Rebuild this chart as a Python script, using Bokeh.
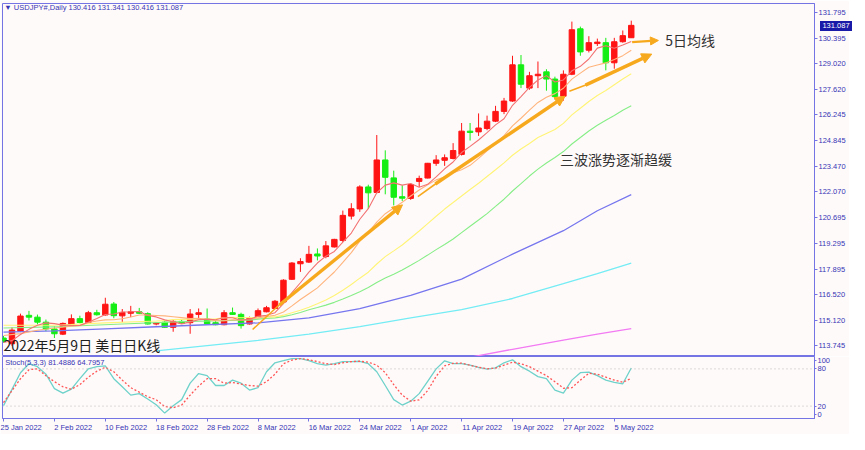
import pandas as pd
from bokeh.plotting import figure
from bokeh.layouts import column
from bokeh.models import (Range1d, FixedTicker, NumeralTickFormatter, Label, Arrow,
                          NormalHead, Span, ColumnDataSource, AllLabels, Div)
from bokeh.embed import file_html
from bokeh.resources import INLINE

# ---------------- data (USDJPY daily) ----------------
opens = [114.16, 113.85, 114.53, 115.39, 115.29, 115.02, 114.65, 114.37, 114.90, 115.21,
         115.00, 115.53, 115.41, 116.00, 115.36, 115.50, 115.58, 115.48, 114.92, 115.02,
         114.74, 115.06, 114.99, 115.44, 115.18, 114.99, 114.88, 115.53, 115.44, 114.92,
         115.30, 115.58, 115.76, 116.11, 117.34, 118.18, 118.27, 118.71, 118.57, 119.09,
         119.44, 120.76, 121.15, 122.34, 122.04, 123.80, 122.83, 121.81, 121.72, 122.64,
         122.82, 123.62, 123.78, 123.88, 124.10, 125.36, 125.32, 125.50, 125.90, 126.43,
         126.99, 128.95, 127.69, 128.36, 128.57, 128.18, 127.25, 128.44, 130.90, 129.74,
         130.10, 130.15, 129.06, 130.20, 130.416]
highs = [114.27, 114.74, 115.48, 115.63, 115.43, 115.16, 114.80, 115.00, 115.44, 115.37,
         115.63, 115.69, 116.34, 116.11, 115.73, 115.90, 115.79, 115.55, 115.02, 115.09,
         115.18, 115.18, 115.73, 115.76, 115.76, 115.09, 115.67, 115.81, 115.53, 115.32,
         115.76, 115.90, 116.22, 117.34, 118.27, 118.48, 119.15, 119.01, 119.41, 119.53,
         121.06, 121.46, 122.43, 122.46, 125.15, 124.32, 123.22, 122.43, 122.53, 122.95,
         123.64, 124.06, 124.10, 124.71, 125.80, 125.80, 126.32, 126.20, 126.73, 127.16,
         129.44, 129.48, 128.57, 129.13, 128.71, 128.31, 128.65, 131.29, 131.02, 130.50,
         130.37, 130.41, 130.41, 130.81, 131.341]
lows = [113.90, 113.74, 114.48, 115.11, 114.90, 114.53, 114.16, 114.32, 114.85, 114.95,
        114.95, 115.37, 115.37, 115.23, 115.02, 115.29, 115.46, 114.89, 114.85, 114.71,
        114.50, 114.92, 114.39, 115.23, 114.89, 114.85, 114.85, 115.41, 114.67, 114.89,
        115.23, 115.55, 115.73, 116.02, 117.30, 117.74, 118.22, 118.36, 118.48, 119.06,
        119.36, 120.58, 120.99, 121.15, 121.99, 121.94, 121.34, 121.58, 121.64, 122.34,
        122.80, 123.48, 123.48, 123.83, 124.04, 124.85, 125.10, 125.41, 125.85, 126.28,
        126.95, 127.69, 127.60, 127.69, 127.55, 127.07, 127.01, 128.39, 129.44, 129.62,
        129.97, 128.65, 128.74, 130.15, 130.416]
closes = [114.00, 114.59, 115.35, 115.29, 115.02, 114.65, 114.39, 114.95, 115.21, 115.00,
          115.53, 115.42, 115.99, 115.37, 115.55, 115.58, 115.50, 114.92, 114.97, 114.74,
          115.06, 114.95, 115.46, 115.53, 114.92, 114.88, 115.53, 115.44, 114.83, 115.23,
          115.64, 115.80, 116.15, 117.29, 118.22, 118.30, 118.69, 118.60, 119.15, 119.50,
          120.80, 121.16, 122.34, 122.02, 123.80, 122.86, 121.78, 121.73, 122.47, 122.80,
          123.62, 123.80, 123.92, 124.31, 125.36, 125.29, 125.53, 125.90, 126.43, 126.99,
          128.95, 127.90, 128.36, 128.44, 128.18, 127.23, 128.44, 130.85, 129.65, 130.15,
          130.18, 129.06, 130.20, 130.53, 131.087]

# date axis: one label every 6 bars (bar index -> label)
tick_bars = [0, 6, 12, 18, 24, 30, 36, 42, 48, 54, 60, 66, 72]
tick_labels = ["25 Jan 2022", "2 Feb 2022", "10 Feb 2022", "18 Feb 2022", "28 Feb 2022",
               "8 Mar 2022", "16 Mar 2022", "24 Mar 2022", "1 Apr 2022", "11 Apr 2022",
               "19 Apr 2022", "27 Apr 2022", "5 May 2022"]
price_ticks = [131.795, 130.395, 129.020, 127.620, 126.245, 124.845, 123.470, 122.070,
               120.695, 119.295, 117.895, 116.520, 115.120, 113.745]

# leading values of the short moving averages (before their window is full)
ma5_lead_bars, ma5_lead = [0, 1, 2, 3], [113.92, 114.02, 114.35, 114.63]
ma10_lead_bars, ma10_lead = [0, 2, 4, 6, 8], [114.30, 114.40, 114.58, 114.70, 114.80]
ma20_lead_bars, ma20_lead = [0, 6, 12, 18], [114.85, 114.85, 114.98, 115.08]
ma30_lead_bars, ma30_lead = [0, 7, 14, 21, 28], [114.70, 114.78, 114.92, 115.05, 115.12]
# long moving averages
ma60_bars = [0, 6, 12, 18, 24, 30, 36, 42, 48, 54, 60, 66, 70, 74]
ma60 = [114.48, 114.55, 114.66, 114.77, 114.88, 114.98, 115.25, 115.75, 116.47, 117.35,
        118.70, 119.97, 121.05, 121.92]
ma120_bars = [18, 24, 30, 36, 42, 48, 54, 60, 66, 70, 74]
ma120 = [113.47, 113.75, 114.03, 114.37, 114.78, 115.25, 115.70, 116.30, 117.10, 117.65, 118.22]
ma240_bars = [55, 60, 66, 70, 74]
ma240 = [113.12, 113.55, 114.05, 114.37, 114.67]

# Stochastic (5,3,3)
stoch_k = [20.7, 47, 73.9, 88.4, 83.6, 71.5, 48.3, 41, 47.3, 64.2,
           80.2, 83.6, 85, 64.2, 51.2, 37.7, 40.1, 31.4, 22.2, 8.7,
           20.7, 30.4, 57, 72.5, 69.1, 53.2, 53.2, 61.9, 57, 45.9,
           49.7, 75.4, 89.9, 93.2, 96.6, 96.6, 93.2, 88.4, 86, 88.4,
           91.8, 91.8, 92.3, 88.4, 75.4, 53.2, 30.4, 21.7, 28, 40.1,
           60, 80, 93, 88.4, 88.4, 86, 82.6, 79.7, 81.6, 89.9,
           94.7, 83.6, 76.3, 67.6, 64.2, 45.9, 41, 61.9, 73.9, 74.9,
           69.1, 61.9, 58.4, 56, 81.4886]
stoch_d = [25.6, 45, 64.2, 78.7, 80.2, 69.1, 59.4, 51.2, 47.3, 54.6,
           66.7, 76.3, 82.6, 75.4, 61.9, 49.7, 42.5, 35.2, 30.4, 19.3,
           17.4, 21.7, 37.7, 52.2, 64.2, 64.2, 57, 58, 55.6, 53.2,
           52.2, 59.4, 71.5, 88.4, 94.2, 96.6, 94.7, 91.8, 88.4, 87,
           89.9, 91.8, 92.3, 90.8, 86, 73.9, 54.6, 37.7, 28, 30,
           45, 68, 85, 89, 89.4, 86, 82.6, 80.2, 81.2, 86,
           90.8, 88.4, 83.6, 76.3, 69.1, 59.4, 48.8, 49.7, 61.9, 73,
           71.5, 66.7, 61.9, 58.4, 64.7957]
stoch_levels = [20, 80]

# ---------------- styling ----------------
BG = "#FFFAFA"
FRAME = "#7474E4"
AXC = "#3636B4"
BULL = "#FF1414"
BEAR = "#14EE14"
ORG = "#F7A91E"
SMALL = "7.5px"
FONT = "Liberation Sans"
CJK = "Noto Sans CJK SC"

W = 849
H_MAIN = 356
H_STOCH = 78
RIGHT = 35
Y_LO, Y_HI = 113.16, 132.27

N = len(closes)
bars = list(range(N))
x_range = Range1d(-0.12, 95.6)

# ---------------- main price panel ----------------
p = figure(width=W, height=H_MAIN, x_range=x_range, y_range=Range1d(Y_LO, Y_HI),
           x_axis_location=None, y_axis_location="right",
           output_backend="svg", toolbar_location=None,
           background_fill_color=BG, border_fill_color=BG,
           outline_line_color=FRAME, outline_line_width=1,
           min_border_left=2, min_border_right=RIGHT, min_border_top=3, min_border_bottom=0)
p.grid.visible = False
ya = p.yaxis[0]
ya.ticker = FixedTicker(ticks=price_ticks)
ya.formatter = NumeralTickFormatter(format="0.000")
ya.axis_line_color = FRAME
ya.major_tick_line_color = FRAME
ya.major_tick_out = 3
ya.major_tick_in = 0
ya.minor_tick_line_color = None
ya.major_label_standoff = 1
ya.major_label_text_font = FONT
ya.major_label_text_font_size = SMALL
ya.major_label_text_color = AXC

colors = [BULL if c >= o else BEAR for o, c in zip(opens, closes)]
src = ColumnDataSource(dict(
    x=bars, o=opens, h=highs, l=lows, c=closes,
    top=[max(o, c) for o, c in zip(opens, closes)],
    bot=[min(o, c) for o, c in zip(opens, closes)],
    color=colors))
p.segment(x0="x", y0="l", x1="x", y1="h", line_color="color", line_width=1, source=src)
p.vbar(x="x", width=0.64, top="top", bottom="bot", fill_color="color",
       line_color="color", line_width=1, source=src)

cs = pd.Series(closes)


def ma_points(n, lead_bars, lead_vals):
    roll = cs.rolling(n).mean()
    return lead_bars + bars[n - 1:], lead_vals + roll.iloc[n - 1:].round(3).tolist()


p.line(ma240_bars, ma240, line_color="#F27AF2", line_width=1.3)
p.line(ma120_bars, ma120, line_color="#74ECF4", line_width=1.3)
p.line(ma60_bars, ma60, line_color="#7676EE", line_width=1.3)
xs, ys = ma_points(30, ma30_lead_bars, ma30_lead)
p.line(xs, ys, line_color="#86EE86", line_width=1.1)
xs, ys = ma_points(20, ma20_lead_bars, ma20_lead)
p.line(xs, ys, line_color="#FFF476", line_width=1.1)
xs, ys = ma_points(10, ma10_lead_bars, ma10_lead)
p.line(xs, ys, line_color="#FFB47C", line_width=1.1)
xs, ys = ma_points(5, ma5_lead_bars, ma5_lead)
p.line(xs, ys, line_color="#F37272", line_width=1.1)

# hand-drawn trend arrows (annotation positions)
thin_parts = [((29.36, 114.62), (32.87, 116.11)),
              ((48.84, 121.81), (51.16, 122.58)),
              ((66.70, 127.52), (68.87, 127.90))]
thick_parts = [((32.52, 115.95), (47.03, 121.37)),
               ((50.90, 122.50), (66.20, 127.25)),
               ((68.60, 127.85), (76.42, 129.53))]
for (x0, y0), (x1, y1) in thin_parts:
    p.add_layout(Arrow(end=None, x_start=x0, y_start=y0, x_end=x1, y_end=y1,
                       line_color=ORG, line_width=1.6))
for (x0, y0), (x1, y1) in thick_parts:
    p.add_layout(Arrow(end=NormalHead(size=10, fill_color=ORG, line_color=ORG),
                       x_start=x0, y_start=y0, x_end=x1, y_end=y1,
                       line_color=ORG, line_width=3.4))
p.add_layout(Arrow(end=NormalHead(size=8, fill_color=ORG, line_color=ORG),
                   x_start=74.1, y_start=130.18, x_end=77.2, y_end=130.27,
                   line_color=ORG, line_width=2.2))

p.add_layout(Label(x=78.0, y=130.27, text="5日均线", text_font=CJK, text_font_size="14px",
                   text_color="#333333", text_baseline="middle"))
p.add_layout(Label(x=65.6, y=123.85, text="三波涨势逐渐趋缓", text_font=CJK,
                   text_font_size="14px", text_color="#333333", text_baseline="middle"))
p.add_layout(Label(x=0.0, y=113.25, text="2022年5月9日 美日日K线", text_font=CJK,
                   text_font_size="14px", text_color="#1E1E1E", text_baseline="bottom"))
header = "▼  USDJPY#,Daily  %.3f %.3f %.3f %.3f" % (opens[-1], highs[-1], lows[-1], closes[-1])
p.add_layout(Label(x=0.1, y=132.05, text=header, text_font=FONT, text_font_size=SMALL,
                   text_color=AXC, text_baseline="middle"))

# ---------------- stochastic panel ----------------
q = figure(width=W, height=H_STOCH, x_range=x_range, y_range=Range1d(0, 100),
           y_axis_location="right", output_backend="svg", toolbar_location=None,
           background_fill_color=BG, border_fill_color=BG,
           outline_line_color=FRAME, outline_line_width=1,
           min_border_left=2, min_border_right=RIGHT, min_border_top=0, min_border_bottom=0)
q.grid.visible = False
for lv in stoch_levels:
    q.add_layout(Span(location=lv, dimension="width", line_color="#B9B9B9",
                      line_dash="1 3", line_width=1))
q.line(bars, stoch_k, line_color="#6ED2CA", line_width=1.3)
q.line(bars, stoch_d, line_color="#FF5656", line_width=1.3, line_dash="2 2")
q.add_layout(Label(x=0.2, y=91, text="Stoch(5,3,3) %.4f %.4f" % (stoch_k[-1], stoch_d[-1]),
                   text_font=FONT, text_font_size=SMALL, text_color=AXC,
                   text_baseline="middle"))

# date labels start at their tick (as on the original): pad the left side with no-break
# spaces; the first one is kept inside the canvas by the axis itself
EM = {" ": 0.278, "J": 0.5, "F": 0.611, "M": 0.833, "A": 0.667, "r": 0.333, "y": 0.5}


def start_at_tick(s):
    width = sum(EM.get(ch, 0.556) for ch in s)
    return "\u00a0" * int(round(width / 0.278)) + s


date_overrides = {b: (t if k == 0 else start_at_tick(t))
                  for k, (b, t) in enumerate(zip(tick_bars, tick_labels))}

qy = q.yaxis[0]
qy.ticker = FixedTicker(ticks=[6, 20, 80, 94])
qy.major_label_overrides = {6: "0", 20: "20", 80: "80", 94: "100"}
qx = q.xaxis[0]
qx.ticker = FixedTicker(ticks=tick_bars)
qx.major_label_overrides = date_overrides
qx.major_label_policy = AllLabels()
for a in (qx, qy):
    a.axis_line_color = FRAME
    a.major_tick_line_color = FRAME
    a.major_tick_out = 3
    a.major_tick_in = 0
    a.minor_tick_line_color = None
    a.major_label_standoff = 1
    a.major_label_text_font = FONT
    a.major_label_text_font_size = SMALL
    a.major_label_text_color = AXC
qy.major_tick_out = 2

# current-price marker on the price scale (sits over the axis column)
frame_h = H_MAIN - 3
box_center = 3 + (Y_HI - closes[-1]) / (Y_HI - Y_LO) * frame_h
price_box = Div(text="%.3f" % closes[-1], width=32, height=10,
                styles={"position": "absolute", "left": "%dpx" % (W - RIGHT + 1),
                        "top": "%dpx" % round(box_center - 9),
                        "background-color": "#1A1AA8", "color": "white",
                        "font-family": FONT, "font-size": SMALL, "line-height": "10px",
                        "text-align": "center", "overflow": "hidden"})

layout = column(p, q, price_box)
open("out.html", "w").write(file_html(layout, INLINE))
